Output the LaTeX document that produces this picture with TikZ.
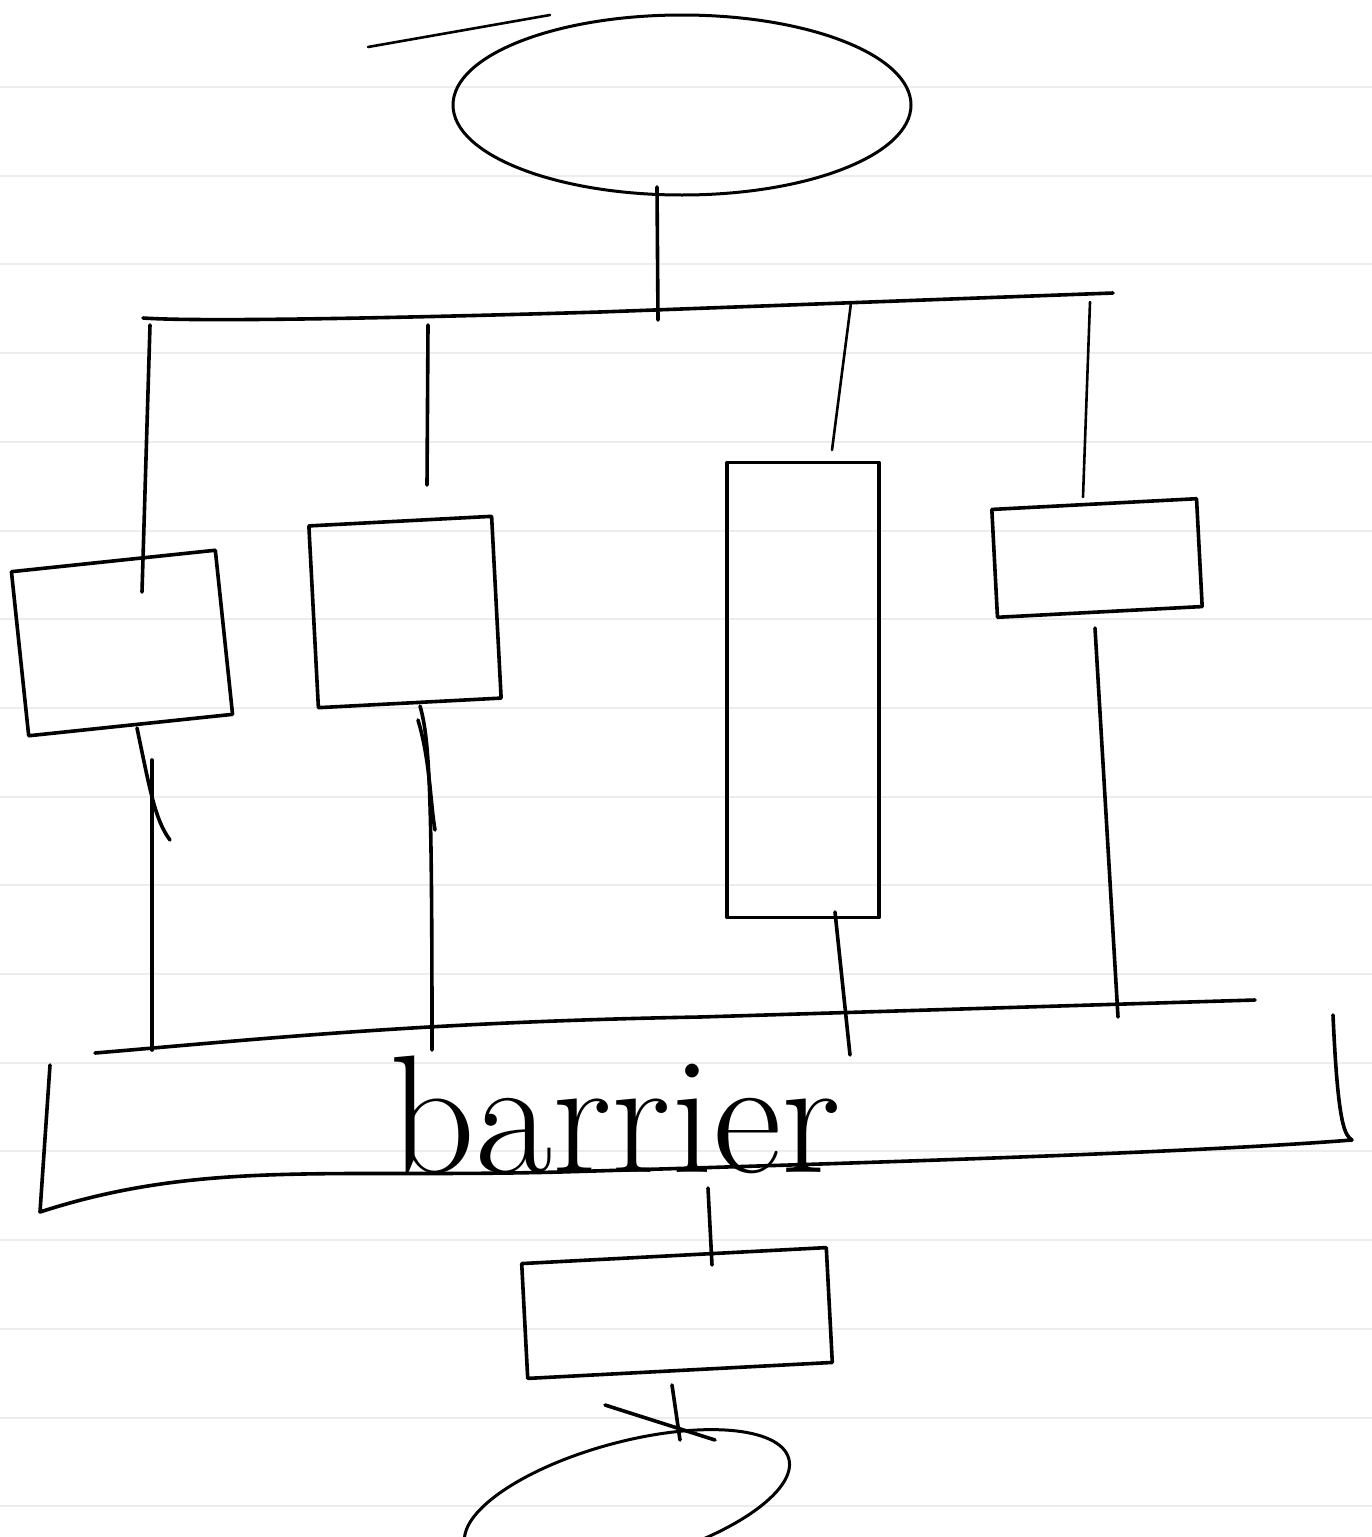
\documentclass[tikz,border=0pt]{standalone}
\usetikzlibrary{shapes.geometric}
\begin{document}
\begin{tikzpicture}[x=1pt,y=-1pt,
  ink/.style={line width=3.6pt, line cap=round, line join=round},
  thin ink/.style={line width=2.6pt, line cap=round, line join=round},
  box/.style={draw, line width=3.6pt, rectangle, inner sep=0pt, line join=round},
  oval/.style={draw, line width=3pt, ellipse, inner sep=0pt},
  rule/.style={line width=2pt, draw=black!7}]
\useasboundingbox (0,0) rectangle (1372,1537);
\fill[white] (0,0) rectangle (1372,1537);
\clip (0,0) rectangle (1372,1537);
\foreach \k in {0,...,16} \draw[rule] (0,{87+88.7*\k}) -- (1372,{87+88.7*\k});

% nodes
\node[oval, minimum width=458pt, minimum height=180pt] (top) at (682,105) {};
\node[box, minimum width=205pt, minimum height=165pt, rotate=6] (b1) at (122,643) {};
\node[box, minimum width=183pt, minimum height=182pt, rotate=3] (b2) at (405,612) {};
\node[box, minimum width=152pt, minimum height=455pt] (b3) at (803,690) {};
\node[box, minimum width=205pt, minimum height=108pt, rotate=3] (b4) at (1097,558) {};
\node[box, minimum width=305pt, minimum height=115pt, rotate=3] (b5) at (677,1313) {};
\node[oval, minimum width=335pt, minimum height=120pt, rotate=15] (bot) at (627,1502) {};
\node[font=\fontsize{168}{168}\selectfont, inner sep=0pt, anchor=base] (barrier) at (615,1172) {barrier};

% named coordinates
\coordinate (tick) at (368,47);
\coordinate (tickE) at (550,15);
\coordinate (busL) at (143,318);
\coordinate (busR) at (1113,293);
\coordinate (t1) at (657,187);
\coordinate (t2) at (658,320);
\coordinate (d1a) at (150,325); \coordinate (d1b) at (142,592);
\coordinate (d2a) at (428,325); \coordinate (d2b) at (427,485);
\coordinate (d3a) at (851,303); \coordinate (d3b) at (832,450);
\coordinate (d4a) at (1090,302); \coordinate (d4b) at (1083,497);
\coordinate (u1a) at (152,760); \coordinate (u1b) at (152,1050);
\coordinate (x1a) at (137,728); \coordinate (x1b) at (170,840);
\coordinate (u2a) at (420,706); \coordinate (u2b) at (432,1050);
\coordinate (x2a) at (418,720); \coordinate (x2b) at (435,830);
\coordinate (u3a) at (835,912); \coordinate (u3b) at (850,1055);
\coordinate (u4a) at (1095,628); \coordinate (u4b) at (1118,1017);
\coordinate (barL) at (95,1053);
\coordinate (barR) at (1255,1000);
\coordinate (brTL) at (50,1065);
\coordinate (brBL) at (40,1212);
\coordinate (brBR) at (1352,1140);
\coordinate (brTR) at (1333,1015);
\coordinate (v1a) at (708,1188); \coordinate (v1b) at (712,1265);
\coordinate (v2a) at (672,1385); \coordinate (v2b) at (680,1440);
\coordinate (x3a) at (605,1405); \coordinate (x3b) at (715,1440);

% connectors
\draw[thin ink] (tick) -- (tickE);
\draw[ink] (t1) -- (t2);
\draw[ink] (busL) .. controls (200,322) and (400,318) .. (600,312) -- (busR);
\draw[ink] (d1a) -- (d1b);
\draw[ink] (d2a) -- (d2b);
\draw[thin ink] (d3a) -- (d3b);
\draw[thin ink] (d4a) -- (d4b);
\draw[ink] (u1a) -- (u1b);
\draw[ink] (x1a) .. controls (150,790) and (155,820) .. (x1b);
\draw[ink] (u2a) .. controls (430,740) and (432,800) .. (u2b);
\draw[ink] (x2a) .. controls (430,760) and (430,800) .. (x2b);
\draw[ink] (u3a) -- (u3b);
\draw[ink] (u4a) -- (u4b);
\draw[ink] (barL) .. controls (250,1040) and (420,1022) .. (700,1017) -- (barR);
\draw[ink] (brTL) -- (brBL) .. controls (200,1160) and (330,1178) .. (560,1172)
   .. controls (900,1162) and (1200,1152) .. (brBR)
   .. controls (1345,1135) and (1338,1128) .. (brTR);
\draw[ink] (v1a) -- (v1b);
\draw[ink] (v2a) -- (v2b);
\draw[ink] (x3a) -- (x3b);
\end{tikzpicture}
\end{document}
